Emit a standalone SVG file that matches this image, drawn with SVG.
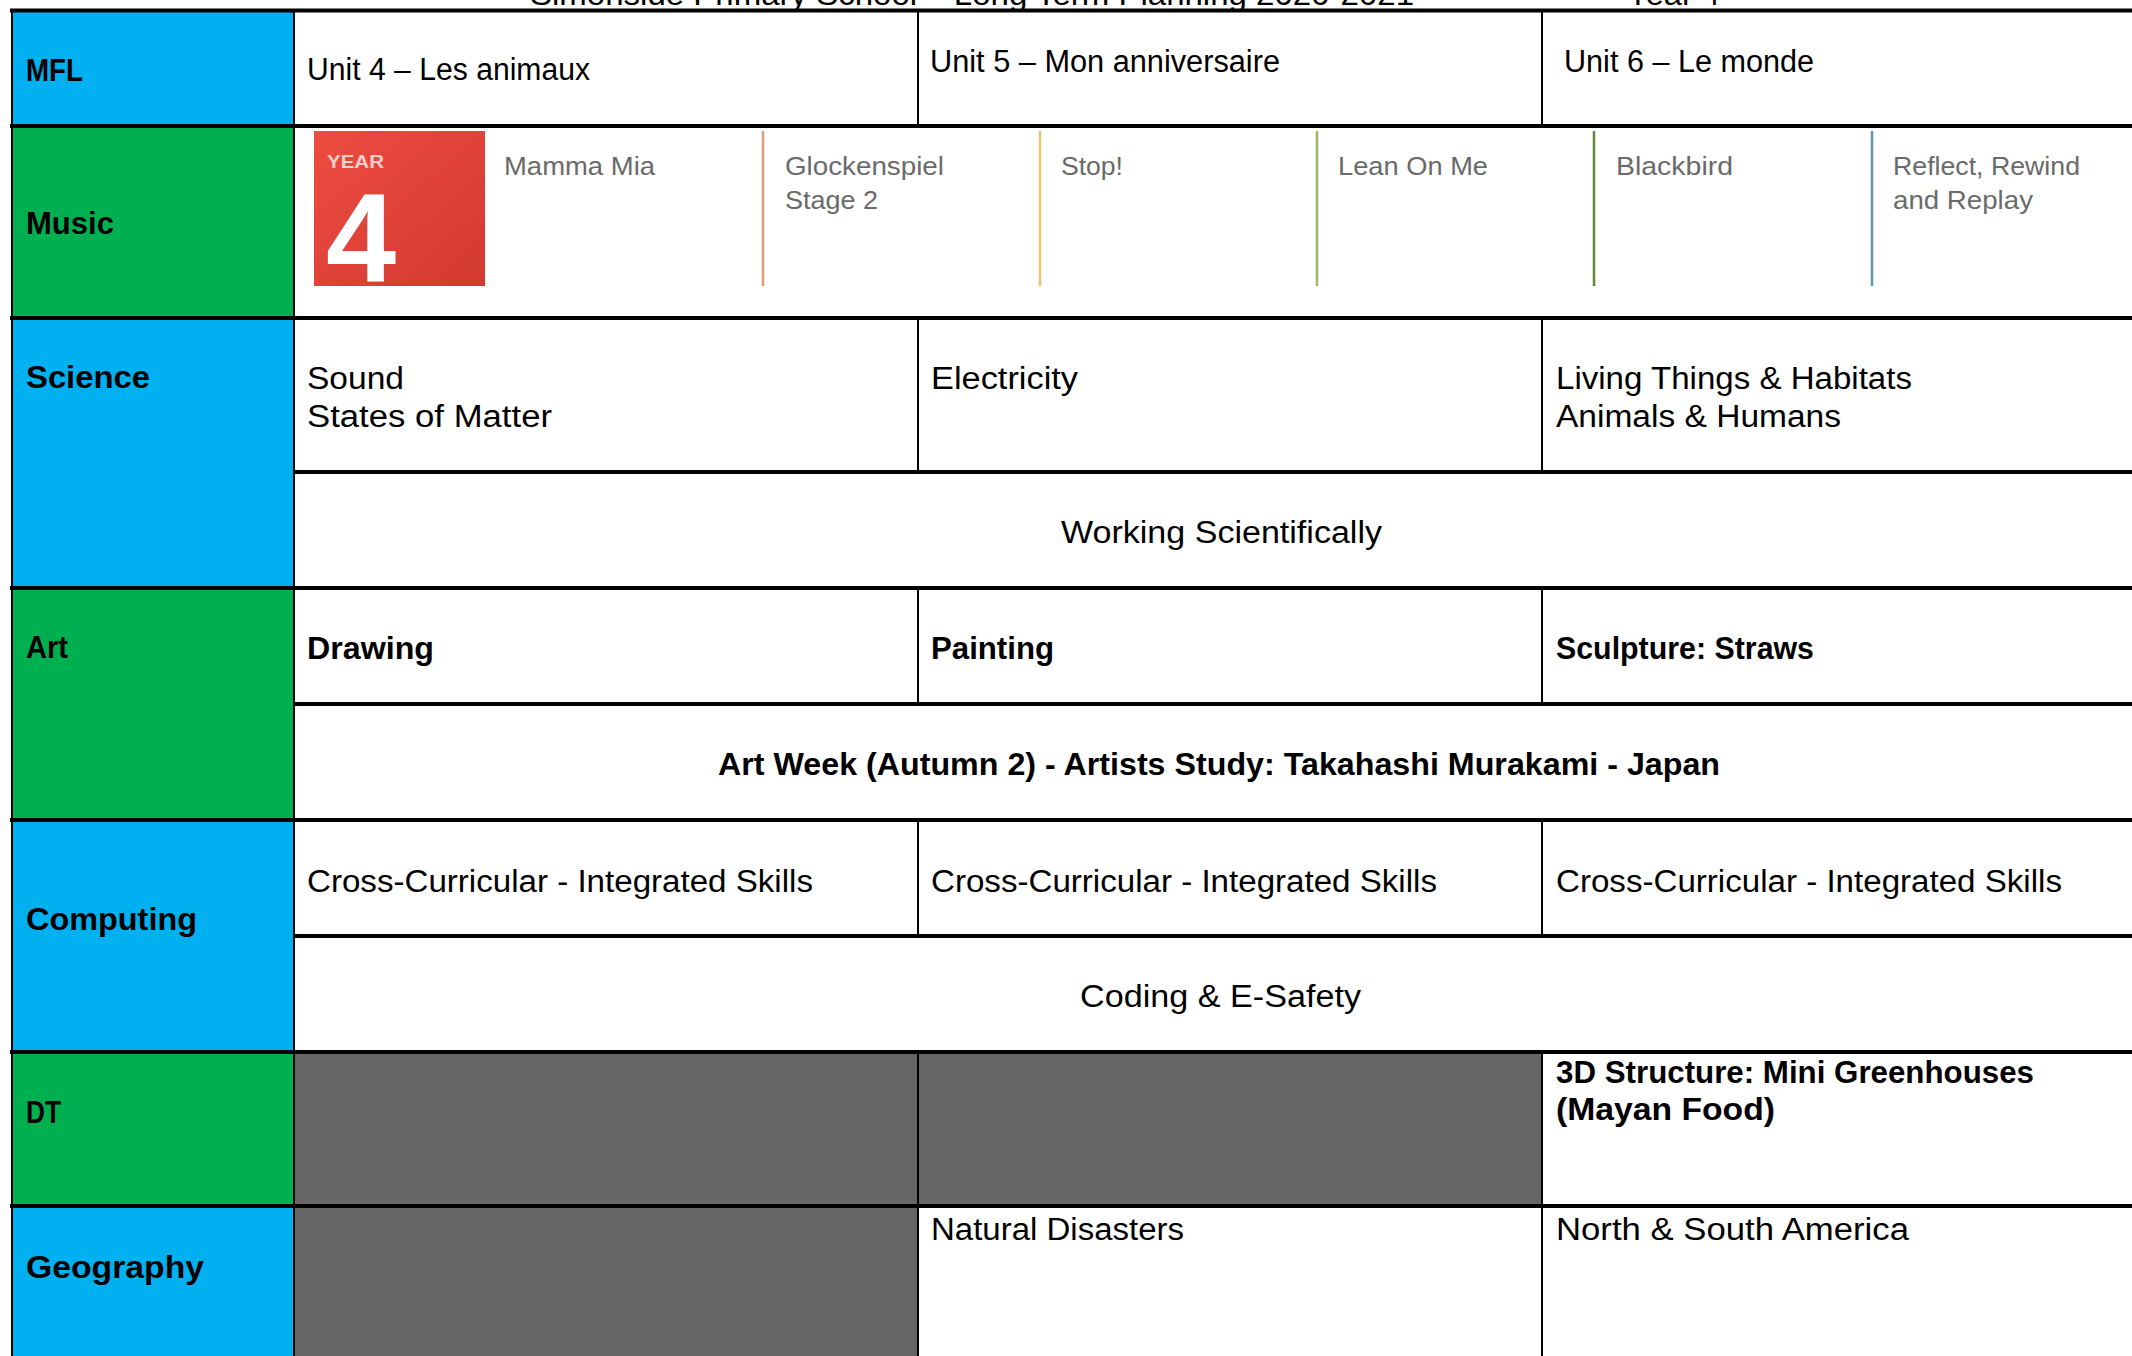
<svg xmlns="http://www.w3.org/2000/svg" width="2132" height="1356" viewBox="0 0 2132 1356">
<defs>
<style>
.lbl{font-family:"Liberation Sans",Arial,sans-serif;font-size:32px;font-weight:bold;fill:#000}
.t{font-family:"Liberation Sans",Arial,sans-serif;font-size:31px;fill:#000}
.tb{font-family:"Liberation Sans",Arial,sans-serif;font-size:31px;font-weight:bold;fill:#000}
.song{font-family:"Liberation Sans",Arial,sans-serif;font-size:25px;fill:#6a6a6a}
.blue{fill:#00B0F0}
.green{fill:#00B050}
.grey{fill:#666666}
.hl{stroke:#000;stroke-width:4;fill:none}
.vl{stroke:#000;stroke-width:2;fill:none}
</style>
<linearGradient id="red" x1="0" y1="0" x2="1" y2="1">
<stop offset="0" stop-color="#ee4b40"/>
<stop offset="1" stop-color="#d23a30"/>
</linearGradient>
</defs>
<rect x="0" y="0" width="2132" height="1356" fill="#fff"/>

<g id="header">
<text class="t" x="530" y="5" textLength="884" lengthAdjust="spacingAndGlyphs">Simonside Primary School – Long Term Planning 2020-2021</text>
<text class="t" x="1627" y="5" textLength="93" lengthAdjust="spacingAndGlyphs">Year 4</text>
</g>

<g id="row-mfl">
<rect class="blue" x="11" y="10" width="283" height="116"/>
<text class="lbl" x="26" y="81" textLength="57" lengthAdjust="spacingAndGlyphs">MFL</text>
<text class="t" x="307" y="80" textLength="283" lengthAdjust="spacingAndGlyphs">Unit 4 – Les animaux</text>
<text class="t" x="930" y="72" textLength="350" lengthAdjust="spacingAndGlyphs">Unit 5 – Mon anniversaire</text>
<text class="t" x="1564" y="72" textLength="250" lengthAdjust="spacingAndGlyphs">Unit 6 – Le monde</text>
</g>

<g id="row-music">
<rect class="green" x="11" y="126" width="283" height="192"/>
<text class="lbl" x="26" y="234" textLength="88" lengthAdjust="spacingAndGlyphs">Music</text>
<rect x="314" y="131" width="171" height="155" fill="url(#red)"/>
<text x="327" y="168" font-family="Liberation Sans,Arial,sans-serif" font-size="19" font-weight="bold" fill="#f7d0ca" textLength="57" lengthAdjust="spacingAndGlyphs">YEAR</text>
<text x="326" y="282" font-family="Liberation Sans,Arial,sans-serif" font-size="126" font-weight="bold" fill="#fff">4</text>
<line x1="763" y1="131" x2="763" y2="286" stroke="#d9a07a" stroke-width="2.5"/>
<line x1="1040" y1="131" x2="1040" y2="286" stroke="#f0c070" stroke-width="2.5"/>
<line x1="1317" y1="131" x2="1317" y2="286" stroke="#9fb85e" stroke-width="2.5"/>
<line x1="1594" y1="131" x2="1594" y2="286" stroke="#5d8a3a" stroke-width="2.5"/>
<line x1="1872" y1="131" x2="1872" y2="286" stroke="#5a98a4" stroke-width="2.5"/>
<text class="song" x="504" y="175" textLength="151" lengthAdjust="spacingAndGlyphs">Mamma Mia</text>
<text class="song" x="785" y="175" textLength="159" lengthAdjust="spacingAndGlyphs">Glockenspiel</text>
<text class="song" x="785" y="209" textLength="93" lengthAdjust="spacingAndGlyphs">Stage 2</text>
<text class="song" x="1061" y="175" textLength="62" lengthAdjust="spacingAndGlyphs">Stop!</text>
<text class="song" x="1338" y="175" textLength="150" lengthAdjust="spacingAndGlyphs">Lean On Me</text>
<text class="song" x="1616" y="175" textLength="117" lengthAdjust="spacingAndGlyphs">Blackbird</text>
<text class="song" x="1893" y="175" textLength="187" lengthAdjust="spacingAndGlyphs">Reflect, Rewind</text>
<text class="song" x="1893" y="209" textLength="140" lengthAdjust="spacingAndGlyphs">and Replay</text>
</g>

<g id="row-science">
<rect class="blue" x="11" y="318" width="283" height="270"/>
<text class="lbl" x="26" y="388" textLength="124" lengthAdjust="spacingAndGlyphs">Science</text>
<text class="t" x="307" y="389" textLength="97" lengthAdjust="spacingAndGlyphs">Sound</text>
<text class="t" x="307" y="427" textLength="245" lengthAdjust="spacingAndGlyphs">States of Matter</text>
<text class="t" x="931" y="389" textLength="147" lengthAdjust="spacingAndGlyphs">Electricity</text>
<text class="t" x="1556" y="389" textLength="356" lengthAdjust="spacingAndGlyphs">Living Things &amp; Habitats</text>
<text class="t" x="1556" y="427" textLength="285" lengthAdjust="spacingAndGlyphs">Animals &amp; Humans</text>
<text class="t" x="1061" y="543" textLength="321" lengthAdjust="spacingAndGlyphs">Working Scientifically</text>
</g>

<g id="row-art">
<rect class="green" x="11" y="588" width="283" height="232"/>
<text class="lbl" x="26" y="658" textLength="42" lengthAdjust="spacingAndGlyphs">Art</text>
<text class="tb" x="307" y="659" textLength="127" lengthAdjust="spacingAndGlyphs">Drawing</text>
<text class="tb" x="931" y="659" textLength="123" lengthAdjust="spacingAndGlyphs">Painting</text>
<text class="tb" x="1556" y="659" textLength="258" lengthAdjust="spacingAndGlyphs">Sculpture: Straws</text>
<text class="tb" x="718" y="775" textLength="1002" lengthAdjust="spacingAndGlyphs">Art Week (Autumn 2) - Artists Study: Takahashi Murakami - Japan</text>
</g>

<g id="row-computing">
<rect class="blue" x="11" y="820" width="283" height="232"/>
<text class="lbl" x="26" y="930" textLength="171" lengthAdjust="spacingAndGlyphs">Computing</text>
<text class="t" x="307" y="892" textLength="506" lengthAdjust="spacingAndGlyphs">Cross-Curricular - Integrated Skills</text>
<text class="t" x="931" y="892" textLength="506" lengthAdjust="spacingAndGlyphs">Cross-Curricular - Integrated Skills</text>
<text class="t" x="1556" y="892" textLength="506" lengthAdjust="spacingAndGlyphs">Cross-Curricular - Integrated Skills</text>
<text class="t" x="1080" y="1007" textLength="281" lengthAdjust="spacingAndGlyphs">Coding &amp; E-Safety</text>
</g>

<g id="row-dt">
<rect class="green" x="11" y="1052" width="283" height="154"/>
<rect class="grey" x="294" y="1052" width="1248" height="154"/>
<text class="lbl" x="26" y="1123" textLength="35" lengthAdjust="spacingAndGlyphs">DT</text>
<text class="tb" x="1556" y="1083" textLength="478" lengthAdjust="spacingAndGlyphs">3D Structure: Mini Greenhouses</text>
<text class="tb" x="1556" y="1120" textLength="219" lengthAdjust="spacingAndGlyphs">(Mayan Food)</text>
</g>

<g id="row-geography">
<rect class="blue" x="11" y="1206" width="283" height="150"/>
<rect class="grey" x="294" y="1206" width="624" height="150"/>
<text class="lbl" x="26" y="1278" textLength="178" lengthAdjust="spacingAndGlyphs">Geography</text>
<text class="t" x="931" y="1240" textLength="253" lengthAdjust="spacingAndGlyphs">Natural Disasters</text>
<text class="t" x="1556" y="1240" textLength="353" lengthAdjust="spacingAndGlyphs">North &amp; South America</text>
</g>

<g id="grid-lines">
<line class="vl" x1="12" y1="10" x2="12" y2="1356"/>
<line class="vl" x1="294" y1="10" x2="294" y2="1356"/>
<path class="vl" d="M918 10V126M918 318V472M918 588V704M918 820V936M918 1052V1356"/>
<path class="vl" d="M1542 10V126M1542 318V472M1542 588V704M1542 820V936M1542 1052V1356"/>
<path class="hl" d="M10 10.5H2145M10 126H2145M10 318H2145M10 588H2145M10 820H2145M10 1052H2145M10 1206H2145"/>
<path class="hl" d="M294 472H2145M294 704H2145M294 936H2145"/>
</g>
</svg>
